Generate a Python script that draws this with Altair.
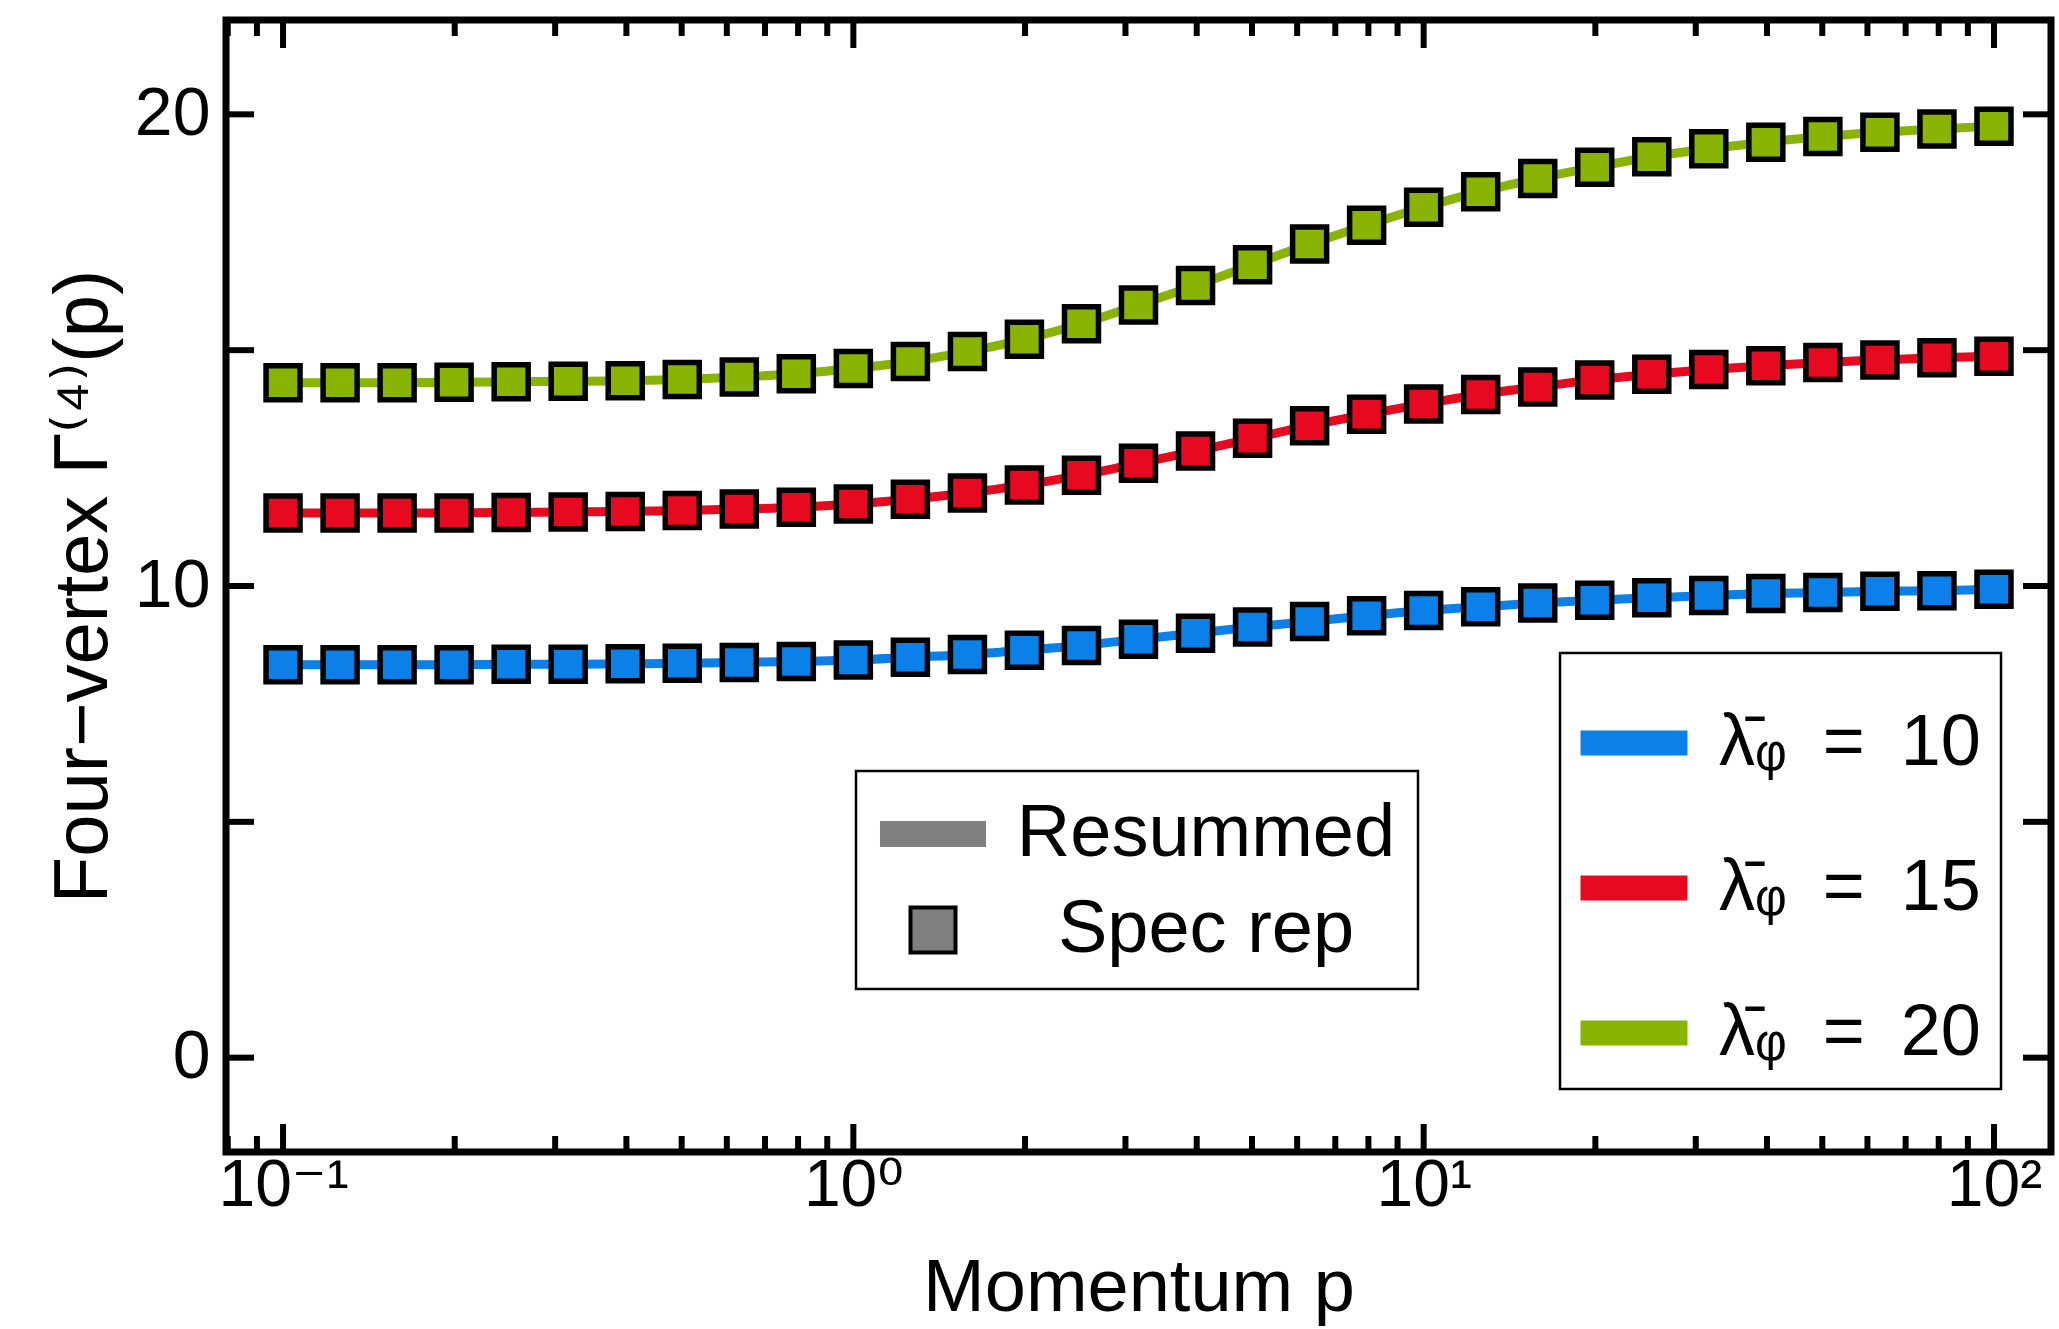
import altair as alt
import pandas as pd

# ---------------- data ----------------
momentum = [0.1, 0.1259, 0.1585, 0.1995, 0.2512, 0.3162, 0.3981, 0.5012, 0.631, 0.7943,
            1.0, 1.259, 1.585, 1.995, 2.512, 3.162, 3.981, 5.012, 6.31, 7.943,
            10.0, 12.59, 15.85, 19.95, 25.12, 31.62, 39.81, 50.12, 63.1, 79.43, 100.0]
gamma_10 = [8.33, 8.33, 8.33, 8.33, 8.34, 8.34, 8.35, 8.36, 8.38, 8.40,
            8.43, 8.49, 8.55, 8.64, 8.74, 8.87, 9.00, 9.13, 9.25, 9.37,
            9.48, 9.56, 9.64, 9.70, 9.75, 9.80, 9.84, 9.86, 9.89, 9.90, 9.93]
gamma_15 = [11.55, 11.55, 11.55, 11.55, 11.56, 11.57, 11.58, 11.60, 11.63, 11.67,
            11.74, 11.84, 11.97, 12.14, 12.35, 12.60, 12.86, 13.13, 13.40, 13.64,
            13.86, 14.06, 14.22, 14.37, 14.49, 14.59, 14.67, 14.74, 14.79, 14.84, 14.87]
gamma_20 = [14.31, 14.31, 14.31, 14.32, 14.33, 14.34, 14.35, 14.38, 14.43, 14.50,
            14.61, 14.76, 14.97, 15.23, 15.56, 15.96, 16.37, 16.81, 17.25, 17.65,
            18.03, 18.36, 18.64, 18.88, 19.10, 19.27, 19.41, 19.53, 19.62, 19.69, 19.75]

series_ids = ["10", "15", "20"]
series_names = ["\u03bb\u0304\u1d69\u2002=\u200210", "\u03bb\u0304\u1d69\u2002=\u200215",
                "\u03bb\u0304\u1d69\u2002=\u200220"]
series_colors = ["#0A80E8", "#E6091F", "#89B404"]
kinds = ["Resummed", "Spec rep"]

y_major = [0, 5, 10, 15, 20]
y_labels = [0, 10, 20]
x_major = [0.1, 1, 10, 100]
x_minor = [0.08, 0.09, 0.2, 0.3, 0.4, 0.5, 0.6, 0.7, 0.8, 0.9,
           2, 3, 4, 5, 6, 7, 8, 9, 20, 30, 40, 50, 60, 70, 80, 90]

# ---------------- table ----------------
rows = []
for sid, vals in zip(series_ids, [gamma_10, gamma_15, gamma_20]):
    for p, v in zip(momentum, vals):
        rows.append({"p": p, "v": v, "series": sid})
df = pd.DataFrame(rows)

W, H = 1825, 1132
FONT = "Liberation Sans, Arial, Helvetica, DejaVu Sans"

x_scale = alt.Scale(type="log", domain=[0.07943, 125.89], nice=False)
y_scale = alt.Scale(domain=[-2, 22], nice=False, zero=False)
color_scale = alt.Scale(domain=series_ids, range=series_colors)

x_axis = alt.Axis(values=x_major, title="Momentum p", domain=False, ticks=False, tickSize=0,
                  grid=False, labelFontSize=66, titleFontSize=74, labelPadding=1,
                  titlePadding=34, labelFont=FONT, titleFont=FONT, titleFontWeight="normal",
                  labelColor="black", titleColor="black",
                  labelExpr="datum.value < 0.5 ? '10\u207b\u00b9' : datum.value < 5 ? '10\u2070' : datum.value < 50 ? '10\u00b9' : '10\u00b2'")
y_axis = alt.Axis(values=y_labels, title="Four\u2212vertex \u0393\u207d\u2074\u207e(p)", domain=False,
                  ticks=False, tickSize=0, grid=False, labelFontSize=68, titleFontSize=76,
                  labelPadding=16, titlePadding=12, labelFont=FONT, titleFont=FONT,
                  titleFontWeight="normal", labelColor="black", titleColor="black")

base = alt.Chart(df)

lines = base.mark_line(strokeWidth=9, interpolate="monotone").encode(
    x=alt.X("p:Q", scale=x_scale, axis=x_axis),
    y=alt.Y("v:Q", scale=y_scale, axis=y_axis),
    color=alt.Color("series:N", scale=color_scale, legend=None),
    detail="series:N",
)
points = base.mark_square(filled=True, size=1156, stroke="black", strokeWidth=5.5, opacity=1).encode(
    x=alt.X("p:Q", scale=x_scale, axis=x_axis),
    y=alt.Y("v:Q", scale=y_scale, axis=y_axis),
    color=alt.Color("series:N", scale=color_scale, legend=None),
)

# ---------------- legends (native, positioned inside the plot) ----------------
bar2 = "M-0.764,-0.18H0.764V0.18H-0.764Z"
legend_series = alt.Legend(
    title=None, orient="none", legendX=1334, legendY=633, padding=20,
    symbolType=bar2, symbolSize=19600, symbolStrokeWidth=0, symbolOffset=-16,
    labelOffset=15, rowPadding=39, labelFontSize=72, labelFont=FONT, labelColor="black",
    labelLimit=1000, fillColor="white", strokeColor="black",
)
helper_series = alt.Chart(pd.DataFrame({"name": series_names})).mark_point(
    filled=True, opacity=1, strokeWidth=0).encode(
    fill=alt.Fill("name:N", scale=alt.Scale(domain=series_names, range=series_colors),
                  legend=legend_series),
).transform_filter("false")

bar1 = "M-1.308,-0.282H1.308V0.282H-1.308Z"
sq1 = "M-0.577,-0.577H0.577V0.577H-0.577Z"
legend_kind = alt.Legend(
    title=None, orient="none", legendX=630, legendY=751, padding=22,
    symbolSize=6084, symbolStrokeWidth=4, symbolOffset=14, labelOffset=232,
    labelAlign="center",
    rowPadding=18, labelFontSize=74, labelFont=FONT, labelColor="black", labelLimit=1000,
    fillColor="white", strokeColor="black", symbolFillColor="#808080",
)
helper_kind = alt.Chart(pd.DataFrame({"kind": kinds})).mark_point(
    filled=True, fill="#808080", opacity=1, strokeWidth=4).encode(
    stroke=alt.Stroke("kind:N", scale=alt.Scale(domain=kinds, range=["#808080", "#000000"]), legend=legend_kind),
    shape=alt.Shape("kind:N", scale=alt.Scale(domain=kinds, range=[bar1, sq1]), legend=legend_kind),
).transform_filter("false")

# ---------------- inward ticks on all four sides ----------------
ymaj = alt.Chart(pd.DataFrame({"v": y_major}))
xmaj = alt.Chart(pd.DataFrame({"p": x_major}))
xmin = alt.Chart(pd.DataFrame({"p": x_minor}))
TW = 6
ticks = [
    ymaj.mark_rule(color="black", strokeWidth=TW).encode(
        y=alt.Y("v:Q", scale=y_scale, axis=y_axis), x=alt.value(0), x2=alt.value(28)),
    ymaj.mark_rule(color="black", strokeWidth=TW).encode(
        y=alt.Y("v:Q", scale=y_scale, axis=y_axis), x=alt.value(W - 28), x2=alt.value(W)),
    xmaj.mark_rule(color="black", strokeWidth=TW).encode(
        x=alt.X("p:Q", scale=x_scale, axis=x_axis), y=alt.value(H), y2=alt.value(H - 28)),
    xmaj.mark_rule(color="black", strokeWidth=TW).encode(
        x=alt.X("p:Q", scale=x_scale, axis=x_axis), y=alt.value(0), y2=alt.value(28)),
    xmin.mark_rule(color="black", strokeWidth=TW).encode(
        x=alt.X("p:Q", scale=x_scale, axis=x_axis), y=alt.value(H), y2=alt.value(H - 16)),
    xmin.mark_rule(color="black", strokeWidth=TW).encode(
        x=alt.X("p:Q", scale=x_scale, axis=x_axis), y=alt.value(0), y2=alt.value(16)),
]

chart = alt.layer(lines, points, helper_series, helper_kind, *ticks).properties(
    width=W, height=H,
    autosize=alt.AutoSizeParams(type="none"),
    padding={"left": 226, "top": 20, "right": 8, "bottom": 177},
).configure(
    font=FONT, background="white",
).configure_view(
    stroke="black", strokeWidth=7,
).configure_legend(
    strokeWidth=2.5,
)

chart.save("out.html", embed_options={"renderer": "svg", "actions": False})
